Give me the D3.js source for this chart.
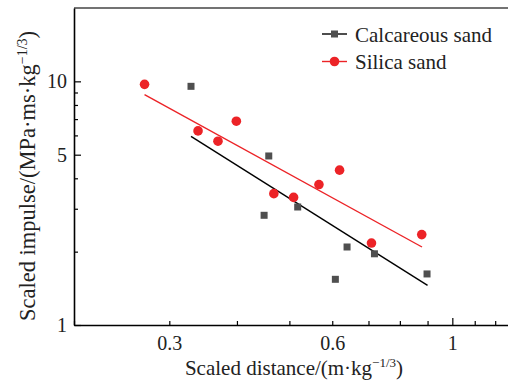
<!DOCTYPE html>
<html>
<head>
<meta charset="utf-8">
<script src="https://cdn.jsdelivr.net/npm/d3@7"></script>
<style>
  html, body { margin: 0; padding: 0; background: #fff; }
  svg { display: block; font-family: "Liberation Serif", "Times New Roman", serif; }
</style>
</head>
<body>
<div id="chart"></div>
<script>
// scaled distance (m·kg^-1/3) vs scaled impulse (MPa·ms·kg^-1/3)
const calcX = [0.329, 0.458, 0.449, 0.518, 0.639, 0.608, 0.718, 0.898];
const calcY = [9.54, 4.94, 2.82, 3.05, 2.09, 1.54, 1.96, 1.62];
const silX = [0.270, 0.339, 0.369, 0.399, 0.468, 0.509, 0.567, 0.619, 0.709, 0.878];
const silY = [9.72, 6.26, 5.68, 6.86, 3.46, 3.34, 3.77, 4.32, 2.17, 2.35];

// fitted lines, end points
const calcFit = [[0.329, 5.95], [0.90, 1.455]];
const silFit = [[0.270, 8.82], [0.879, 2.09]];

const xTicks = [0.2, 0.3, 0.4, 0.5, 0.6, 0.7, 0.8, 0.9, 1, 1.1, 1.2];
const xLabels = [0.3, 0.6, 1];
const yTicks = [1, 2, 3, 4, 5, 6, 7, 8, 9, 10];
const yLabels = [1, 5, 10];

const W = 508, H = 388;
const margin = { top: 8, right: -6, bottom: 63, left: 74 };

const svg = d3.select('#chart').append('svg')
  .attr('width', W)
  .attr('height', H);

const x = d3.scaleLog()
  .domain([0.2, 1.3])
  .range([margin.left, W - margin.right]);

const y = d3.scaleLog()
  .domain([1, 20])
  .range([H - margin.bottom, margin.top]);

// top frame line
svg.append('line')
  .attr('x1', margin.left).attr('x2', W)
  .attr('y1', margin.top).attr('y2', margin.top)
  .attr('stroke', '#444')
  .attr('stroke-width', 1.6);

let xAxis = d3.axisBottom(x)
  .tickValues(xTicks)
  .tickSizeInner(-4)
  .tickSizeOuter(0)
  .tickPadding(11)
  .tickFormat(d => xLabels.includes(d) ? String(d) : '');

let gx = svg.append('g')
  .attr('transform', `translate(0,${H - margin.bottom})`)
  .call(xAxis);
gx.selectAll('.tick line').filter(d => d === 1).attr('y2', -7);

let yAxis = d3.axisLeft(y)
  .tickValues(yTicks)
  .tickSizeInner(-4)
  .tickSizeOuter(0)
  .tickPadding(7)
  .tickFormat(d => yLabels.includes(d) ? String(d) : '');

let gy = svg.append('g')
  .attr('transform', `translate(${margin.left},0)`)
  .call(yAxis);
gy.selectAll('.tick line').filter(d => yLabels.includes(d)).attr('x2', 7);

[gx, gy].forEach(g => {
  g.select('.domain').attr('stroke', '#000').attr('stroke-width', 1.6);
  g.selectAll('.tick line').attr('stroke', '#000').attr('stroke-width', 1.2);
  g.selectAll('.tick text')
    .attr('fill', '#222')
    .style('font-family', '"Liberation Serif", serif')
    .style('font-size', '20px');
});

// axis titles
let xt = svg.append('text')
  .attr('x', 294)
  .attr('y', 375)
  .attr('text-anchor', 'middle')
  .attr('fill', '#222')
  .style('font-size', '21px');
xt.append('tspan').text('Scaled distance/(m·kg');
xt.append('tspan').attr('dy', -8).style('font-size', '13px').text('−1/3');
xt.append('tspan').attr('dy', 8).text(')');

let yt = svg.append('text')
  .attr('transform', 'translate(35,176) rotate(-90)')
  .attr('text-anchor', 'middle')
  .attr('fill', '#222')
  .style('font-size', '22.5px');
yt.append('tspan').text('Scaled impulse/(MPa·ms·kg');
yt.append('tspan').attr('dy', -8).style('font-size', '14px').text('−1/3');
yt.append('tspan').attr('dy', 8).text(')');

const red = '#ec2327';
const grey = '#4f4f4f';

let line = d3.line().x(d => x(d[0])).y(d => y(d[1]));

svg.append('path')
  .attr('d', line(calcFit))
  .attr('fill', 'none')
  .attr('stroke', '#000')
  .attr('stroke-width', 1.4);

svg.append('path')
  .attr('d', line(silFit))
  .attr('fill', 'none')
  .attr('stroke', red)
  .attr('stroke-width', 1.4);

const sq = 7;
svg.selectAll('[calc]')
  .data(d3.zip(calcX, calcY))
  .enter()
  .append('rect')
  .attr('calc', 'calc')
  .attr('x', d => x(d[0]) - sq / 2)
  .attr('y', d => y(d[1]) - sq / 2)
  .attr('width', sq)
  .attr('height', sq)
  .attr('fill', grey);

svg.selectAll('[sil]')
  .data(d3.zip(silX, silY))
  .enter()
  .append('circle')
  .attr('sil', 'sil')
  .attr('cx', d => x(d[0]))
  .attr('cy', d => y(d[1]))
  .attr('r', 4.8)
  .attr('fill', red);

// legend
const legend = [
  { name: 'Calcareous sand', line: '#000', fill: grey, shape: 'square' },
  { name: 'Silica sand', line: red, fill: red, shape: 'circle' }
];

let lg = svg.append('g').attr('transform', 'translate(322,34)');
legend.forEach((d, i) => {
  let row = lg.append('g').attr('transform', `translate(0,${i * 27.5})`);
  row.append('line')
    .attr('x1', 0).attr('x2', 25)
    .attr('stroke', d.line)
    .attr('stroke-width', 1.4);
  if (d.shape === 'square') {
    row.append('rect')
      .attr('x', 12.5 - sq / 2).attr('y', -sq / 2)
      .attr('width', sq).attr('height', sq)
      .attr('fill', d.fill);
  } else {
    row.append('circle')
      .attr('cx', 12.5).attr('r', 4.8)
      .attr('fill', d.fill);
  }
  row.append('text')
    .attr('x', 33)
    .attr('y', 7.5)
    .attr('fill', '#222')
    .style('font-size', '21px')
    .text(d.name);
});
</script>
</body>
</html>
